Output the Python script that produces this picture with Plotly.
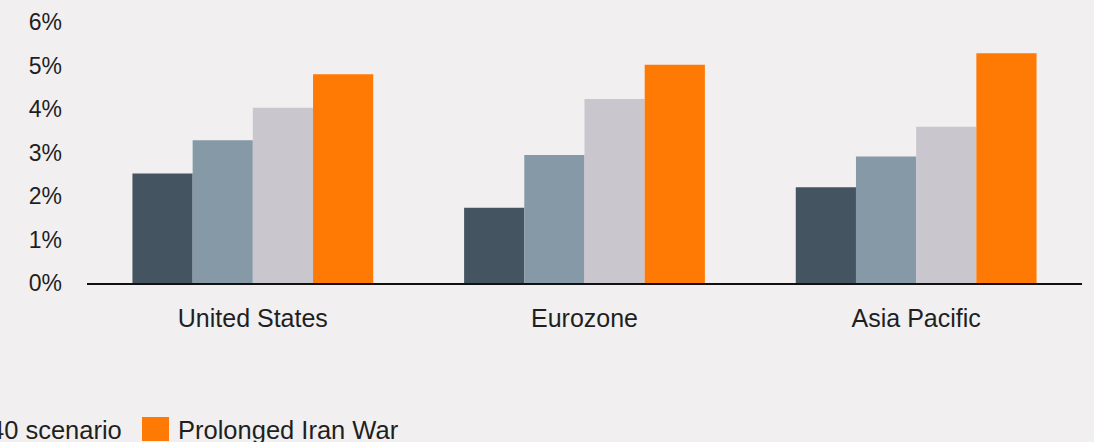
import plotly.graph_objects as go

# Regions on the category axis
regions = ["United States", "Eurozone", "Asia Pacific"]

# Growth rates (%) per scenario
series_names = ["Pre-war baseline", "Current baseline", "Oil at $140 scenario", "Prolonged Iran War"]
pre_war = [2.52, 1.73, 2.20]
current = [3.28, 2.94, 2.91]
oil_140 = [4.03, 4.23, 3.59]
prolonged_war = [4.80, 5.02, 5.28]
series_values = [pre_war, current, oil_140, prolonged_war]
series_colors = ["#445461", "#8599A6", "#C9C6CD", "#FF7A05"]

# Y axis ticks
y_ticks = [0, 1, 2, 3, 4, 5, 6]
y_tick_labels = ["0%", "1%", "2%", "3%", "4%", "5%", "6%"]

BG = "#F1EFF0"
TEXT = "#1F1F1F"
FONT = "Liberation Sans"

W, H = 1094, 442
M_L, M_R, M_T, M_B = 87, 12, 22, 159
plot_w = W - M_L - M_R
plot_h = H - M_T - M_B


def px_to_paper_x(px):
    return (px - M_L) / plot_w


def px_to_paper_y(py):
    return (H - M_B - py) / plot_h


fig = go.Figure()
for name, vals, color in zip(series_names, series_values, series_colors):
    fig.add_trace(go.Bar(
        x=regions, y=vals, name=name,
        marker=dict(color=color, line=dict(width=0)),
        showlegend=False,
    ))

# Legend drawn as swatches + labels along the bottom, laid out right to left:
# each label ends a fixed gap before the next item's swatch.
legend_font = dict(family=FONT, size=25.5, color=TEXT)
swatch_w = 27
swatch_top, swatch_bottom = 417, 441
text_mid = 430
text_gap, item_gap = 7, 18
label_widths = [200, 190, 245, 222]

shapes = []
annotations = []
swatch_left = 142
for i in range(len(series_names) - 1, -1, -1):
    shapes.append(dict(
        type="rect", xref="paper", yref="paper",
        x0=px_to_paper_x(swatch_left), x1=px_to_paper_x(swatch_left + swatch_w),
        y0=px_to_paper_y(swatch_bottom), y1=px_to_paper_y(swatch_top),
        fillcolor=series_colors[i], line=dict(width=0),
    ))
    if i == len(series_names) - 1:
        annotations.append(dict(
            xref="paper", yref="paper",
            x=px_to_paper_x(swatch_left + swatch_w + text_gap), y=px_to_paper_y(text_mid),
            xanchor="left", yanchor="middle", showarrow=False,
            text=series_names[i], font=legend_font,
        ))
    if i > 0:
        # label of the previous item, right-aligned before this swatch
        text_right = swatch_left - item_gap
        annotations.append(dict(
            xref="paper", yref="paper",
            x=px_to_paper_x(text_right), y=px_to_paper_y(text_mid),
            xanchor="right", yanchor="middle", showarrow=False,
            text=series_names[i - 1], font=legend_font,
        ))
        swatch_left = text_right - label_widths[i - 1] - text_gap - swatch_w

fig.update_layout(
    width=W, height=H,
    margin=dict(l=M_L, r=M_R, t=M_T, b=M_B, autoexpand=False),
    paper_bgcolor=BG, plot_bgcolor=BG,
    barmode="group", bargap=0.274, bargroupgap=0,
    font=dict(family=FONT, color=TEXT),
    shapes=shapes, annotations=annotations,
    showlegend=False,
)
fig.update_xaxes(
    range=[-0.5, 2.5], showgrid=False, zeroline=False,
    showline=True, linecolor="#111111", linewidth=2,
    ticks="", tickfont=dict(family=FONT, size=25, color=TEXT),
    ticklabelstandoff=12,
)
fig.update_yaxes(
    range=[0, 6], showgrid=False, zeroline=False, showline=False,
    tickvals=y_ticks, ticktext=y_tick_labels, ticks="",
    tickfont=dict(family=FONT, size=23, color=TEXT),
    ticklabelstandoff=24,
)

fig.write_html("out.html")
